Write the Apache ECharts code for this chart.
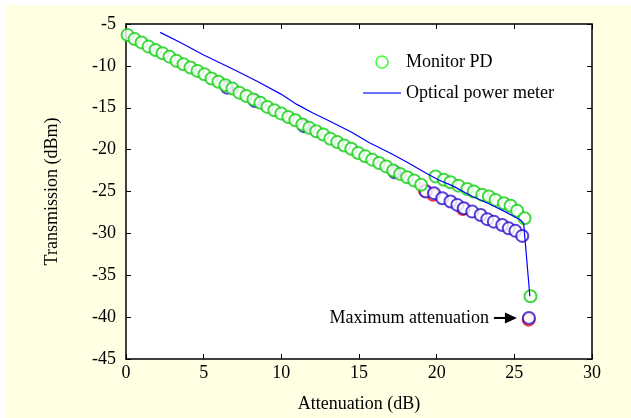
<!DOCTYPE html>
<html>
<head>
<meta charset="utf-8">
<script src="https://cdn.jsdelivr.net/npm/echarts@6/dist/echarts.min.js"></script>
<style>
html,body{margin:0;padding:0;background:#ffffff;}
#c{width:631px;height:418px;}
</style>
</head>
<body>
<div id="c"></div>
<script>
// Monitor PD (green circles): main diagonal + upper branch + drop point
var monitorX = [0.1,0.55,1.0,1.45,1.9,2.35,2.8,3.25,3.7,4.15,4.6,5.05,5.5,5.95,6.4,6.85,7.3,7.75,8.2,8.65,9.1,9.55,10.0,10.45,10.9,11.35,11.8,12.25,12.7,13.15,13.6,14.05,14.5,14.95,15.4,15.85,16.3,16.75,17.2,17.65,18.1,18.55,19.0,
  19.93,20.46,20.89,21.4,21.97,22.39,22.93,23.36,23.79,24.33,24.76,25.18,25.66,26.04];
var monitorY = [-6.3,-6.8,-7.2,-7.7,-8.1,-8.5,-8.9,-9.4,-9.8,-10.2,-10.6,-11.0,-11.5,-11.9,-12.3,-12.7,-13.2,-13.6,-14.0,-14.4,-14.9,-15.3,-15.7,-16.1,-16.5,-17.0,-17.4,-17.8,-18.2,-18.7,-19.1,-19.5,-19.9,-20.4,-20.8,-21.2,-21.6,-22.0,-22.5,-22.9,-23.3,-23.7,-24.2,
  -23.2,-23.6,-23.9,-24.3,-24.7,-25.0,-25.4,-25.6,-26.0,-26.4,-26.7,-27.3,-28.2,-37.5];
// Blue circles
var blueX = [6.5,8.3,11.45,17.3,19.3,19.83,20.36,20.89,21.33,21.75,22.29,22.83,23.26,23.68,24.22,24.64,25.07,25.51,25.94];
var blueY = [-12.6,-14.2,-17.2,-22.7,-25.0,-25.2,-25.8,-26.2,-26.6,-27.0,-27.4,-27.8,-28.3,-28.6,-29.0,-29.4,-29.7,-30.3,-40.1];
// Red circles
var redX = [19.25,19.78,21.7,25.92];
var redY = [-24.9,-25.4,-27.1,-40.3];
// Optical power meter (blue line)
var meterX = [2.2,3.5,5.0,6.0,7.0,8.5,10.0,11.0,12.0,13.0,14.5,15.7,17.0,18.1,19.3,20.1,21.0,22.3,23.3,24.4,25.4,25.6,26.0];
var meterY = [-6.0,-7.2,-8.7,-9.6,-10.5,-11.9,-13.4,-14.6,-15.6,-16.5,-17.9,-19.2,-20.4,-21.5,-22.8,-23.6,-24.3,-25.6,-26.4,-27.4,-28.4,-28.8,-37.5];

var xTicks = [0,5,10,15,20,25,30];
var yTicks = [-45,-40,-35,-30,-25,-20,-15,-10,-5];
var seriesNames = ['Monitor PD','Optical power meter'];
var annotationText = 'Maximum attenuation';

function zip(a,b){return a.map(function(v,i){return [v,b[i]];});}

var FONT = '"Liberation Serif","Times New Roman",serif';
var FS = 18;
var chart = echarts.init(document.getElementById('c'), null, {renderer:'canvas'});

var axisCommon = {
  axisLine:{show:true,onZero:false,lineStyle:{color:'#000',width:1.5}},
  axisTick:{show:true,inside:true,length:5,lineStyle:{color:'#000',width:1}},
  splitLine:{show:false}
};

var option = {
  backgroundColor:'#FFFFE3',
  animation:false,
  textStyle:{fontFamily:FONT},
  grid:{left:126,right:39,top:24,bottom:59,show:true,backgroundColor:'#ffffff',borderWidth:0},
  legend:{
    orient:'vertical', left:358, top:48, itemWidth:38, itemHeight:12, itemGap:13,
    textStyle:{fontFamily:FONT,fontSize:FS,color:'#000'},
    data:[
      {name:seriesNames[0], icon:'circle', itemStyle:{color:'rgba(0,0,0,0)',borderColor:'#00FF00',borderWidth:1.5}},
      {name:seriesNames[1], icon:'path://M0,0L38,0L38,1.5L0,1.5Z', itemStyle:{color:'#3344FF'}}
    ]
  },
  xAxis:[
    Object.assign({type:'value',min:xTicks[0],max:xTicks[xTicks.length-1],interval:5,position:'bottom',
      name:'Attenuation (dB)',nameLocation:'middle',nameGap:36,
      nameTextStyle:{fontFamily:FONT,fontSize:FS,color:'#000'},
      axisLabel:{fontFamily:FONT,fontSize:FS,color:'#000',margin:5}},axisCommon),
    Object.assign({type:'value',min:xTicks[0],max:xTicks[xTicks.length-1],interval:5,position:'top',
      axisLabel:{show:false}},axisCommon)
  ],
  yAxis:[
    Object.assign({type:'value',min:yTicks[0],max:yTicks[yTicks.length-1],interval:5,position:'left',
      name:'Transmission (dBm)',nameLocation:'middle',nameGap:65,
      nameTextStyle:{fontFamily:FONT,fontSize:FS,color:'#000'},
      axisLabel:{fontFamily:FONT,fontSize:FS,color:'#000',margin:10}},axisCommon),
    Object.assign({type:'value',min:yTicks[0],max:yTicks[yTicks.length-1],interval:5,position:'right',
      axisLabel:{show:false}},axisCommon)
  ],
  series:[
    {name:'red', type:'scatter', data:zip(redX,redY), symbol:'emptyCircle', symbolSize:12,
      itemStyle:{color:'#FF0000',borderColor:'#FF0000',borderWidth:1.5}, z:2},
    {name:'blue', type:'scatter', data:zip(blueX,blueY), symbol:'emptyCircle', symbolSize:12,
      itemStyle:{color:'#2A10D0',borderColor:'#2A10D0',borderWidth:1.5}, z:3},
    {name:seriesNames[0], type:'scatter', data:zip(monitorX,monitorY), symbol:'emptyCircle', symbolSize:12,
      itemStyle:{color:'#11D011',borderColor:'#11D011',borderWidth:1.5}, z:4},
    {name:seriesNames[1], type:'line', data:zip(meterX,meterY), symbol:'none', showSymbol:false,
      lineStyle:{color:'#0000FF',width:1.2}, itemStyle:{color:'#0000FF'}, z:5}
  ]
};
chart.setOption(option);

// annotation placed relative to the maximum attenuation point
var last = blueX.length-1;
var p = chart.convertToPixel({xAxisIndex:0,yAxisIndex:0},[blueX[last],blueY[last]]);
chart.setOption({graphic:[
  {type:'rect', left:0, top:0, shape:{width:631,height:418}, style:{fill:'none',stroke:'#ffffff',lineWidth:5}, silent:true, z:100},
  {type:'text', x:p[0]-40, y:p[1], style:{text:annotationText,font:FS+'px '+FONT,fill:'#000',textAlign:'right',textVerticalAlign:'middle'}},
  {type:'line', shape:{x1:p[0]-35,y1:p[1],x2:p[0]-22,y2:p[1]}, style:{stroke:'#000',lineWidth:2}},
  {type:'polygon', shape:{points:[[p[0]-24,p[1]-5.5],[p[0]-12,p[1]],[p[0]-24,p[1]+5.5]]}, style:{fill:'#000'}}
]});
</script>
</body>
</html>
